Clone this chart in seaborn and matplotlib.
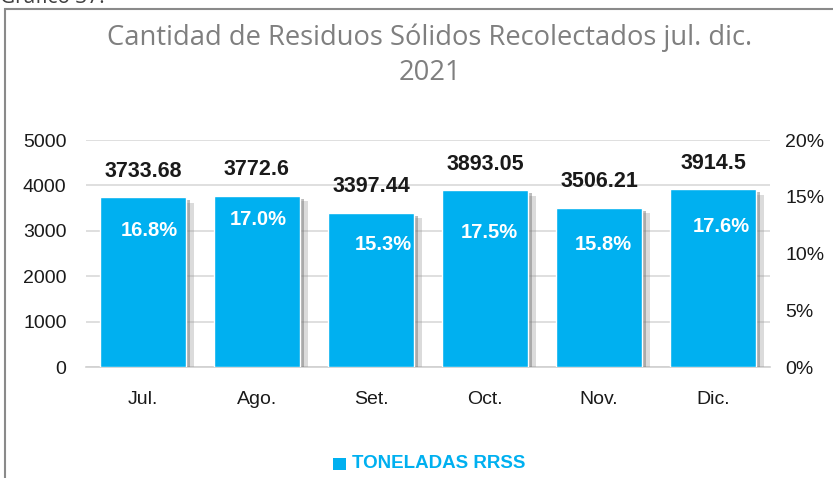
import matplotlib
matplotlib.use("Agg")
import matplotlib.pyplot as plt
import matplotlib.patheffects as pe
import seaborn as sns
import pandas as pd

# data
meses = ["Jul.", "Ago.", "Set.", "Oct.", "Nov.", "Dic."]
toneladas = [3733.68, 3772.6, 3397.44, 3893.05, 3506.21, 3914.5]
porcentajes = ["16.8%", "17.0%", "15.3%", "17.5%", "15.8%", "17.6%"]
y_ticks = [0, 1000, 2000, 3000, 4000, 5000]
pct_ticks = ["0%", "5%", "10%", "15%", "20%"]

# label placement (px offsets in the reference)
pct_dx = [6, 1, 12, 4, 4, 8]
pct_dy = [-33, -24, -32, -42, -37, -37]

AZUL = "#00B0F0"
NARROW = ["Liberation Sans Narrow", "Liberation Sans", "DejaVu Sans"]

sns.set_theme(style="white")
plt.rcParams["font.family"] = NARROW

df = pd.DataFrame({"mes": meses, "ton": toneladas})

fig = plt.figure(figsize=(8.33, 4.78), dpi=100)
ax = fig.add_axes([0.1032, 0.2322, 0.8212, 0.4749])

sns.barplot(data=df, x="mes", y="ton", color=AZUL, saturation=1, width=0.75,
            ax=ax, zorder=3)
for bar in ax.patches:
    bar.set_path_effects([
        pe.SimplePatchShadow(offset=(6, -4), shadow_rgbFace="#9a9a9a", alpha=0.35),
        pe.SimplePatchShadow(offset=(3, -2), shadow_rgbFace="#7a7a7a", alpha=0.5),
        pe.Normal()])

ax.set_xlim(-0.5, 5.5)
ax.set_ylim(0, 5000)
ax.set_yticks(y_ticks)
ax.set_xlabel("")
ax.set_ylabel("")
ax.grid(axis="y", color="#d9d9d9", linewidth=1.2, zorder=0)
for s in ["left", "right", "top"]:
    ax.spines[s].set_visible(False)
ax.spines["bottom"].set_color("#d0d0d0")
ax.spines["bottom"].set_linewidth(1.2)
ax.tick_params(axis="y", length=0, pad=14, labelsize=14, labelcolor="#1a1a1a")
ax.tick_params(axis="x", length=0, pad=17, labelsize=14, labelcolor="#1a1a1a")

ax2 = ax.twinx()
ax2.set_ylim(0, 20)
ax2.set_yticks([0, 5, 10, 15, 20])
ax2.set_yticklabels(pct_ticks)
ax2.tick_params(axis="y", length=0, pad=11, labelsize=14, labelcolor="#1a1a1a")
for s in ax2.spines.values():
    s.set_visible(False)
ax2.grid(False)

for i, (v, p) in enumerate(zip(toneladas, porcentajes)):
    ax.annotate(f"{v:g}", (i, v), xytext=(0, 26), textcoords="offset pixels",
                ha="center", va="center", fontsize=15.5, fontweight="bold",
                color="#1a1a1a", zorder=5)
    ax.annotate(p, (i, v), xytext=(pct_dx[i], pct_dy[i]), textcoords="offset pixels",
                ha="center", va="center", fontsize=14.5, fontweight="bold",
                color="white", zorder=5)

fig.text(430 / 833, 0.884, "Cantidad de Residuos Sólidos Recolectados jul. dic.\n2021",
         ha="center", va="center", fontsize=19.7, color="#7f7f7f",
         family=["Open Sans", "DejaVu Sans"], linespacing=1.35)

# legend
fig.add_artist(plt.Rectangle((333 / 833, 1 - 470 / 478), 13 / 833, 12 / 478,
                             transform=fig.transFigure, facecolor=AZUL,
                             edgecolor="none"))
fig.text(352 / 833, 1 - 464 / 478, "TONELADAS RRSS", ha="left", va="center",
         fontsize=13.5, fontweight="bold", color=AZUL)

# outer frame and cut caption (partly above the top edge, as in the reference)
frame = plt.Rectangle((0.0055, -0.05), 1.2, 1.031, transform=fig.transFigure,
                      fill=False, edgecolor="#8a8a8a", linewidth=1.5)
fig.add_artist(frame)
fig.text(0.0, 1.005, "Gráfico 37.", ha="left", va="center", fontsize=15,
         color="#404040", family=["Open Sans", "DejaVu Sans"])

fig.savefig("out.png", dpi=100)
